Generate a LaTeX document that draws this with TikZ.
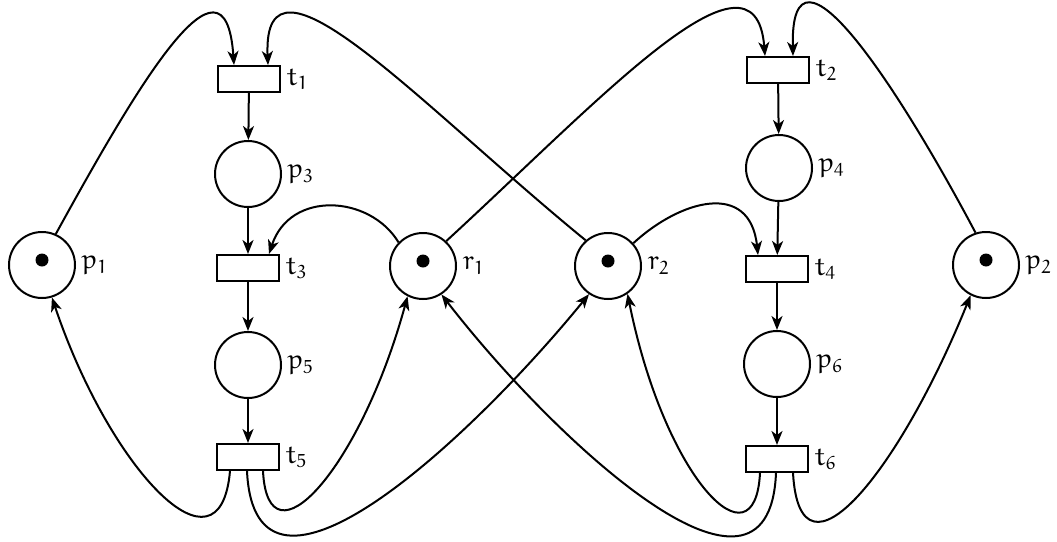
\documentclass[tikz,border=0pt]{standalone}
\usetikzlibrary{arrows.meta}
\DeclareFontFamily{U}{myeur}{}
\DeclareFontShape{U}{myeur}{m}{n}{<-6> eurm5 <6-8> eurm7 <8-> eurm10}{}
\DeclareMathAlphabet{\eu}{U}{myeur}{m}{n}
\newcommand{\lab}[2]{$\eu{#1}_{\eu{#2}}$}
\begin{document}
\begin{tikzpicture}[x=1pt,y=-1pt,
  place/.style={circle,draw,line width=2pt,minimum size=66pt,inner sep=0pt},
  trans/.style={rectangle,draw,line width=2pt,minimum width=62pt,minimum height=26pt,inner sep=0pt},
  tok/.style={circle,fill,minimum size=13pt,inner sep=0pt,yshift=5pt},
  arc/.style={line width=2pt,-{Stealth[length=14pt,width=11pt,inset=4pt]}},
  every label/.style={font=\fontsize{27}{32}\selectfont,label distance=2pt}]
\useasboundingbox (0,0) rectangle (1057,541);
% places
\node[place,label=right:\lab{p}{1}] (p1) at (42,265) {};
\node[place,label=right:\lab{r}{1}] (r1) at (423,266) {};
\node[place,label=right:\lab{r}{2}] (r2) at (608,266) {};
\node[place,label=right:\lab{p}{2}] (p2) at (986,265) {};
\node[place,label=right:\lab{p}{3}] (p3) at (248,174) {};
\node[place,label=right:\lab{p}{5}] (p5) at (248,365) {};
\node[place,label=right:\lab{p}{4}] (p4) at (779,168) {};
\node[place,label=right:\lab{p}{6}] (p6) at (777,364) {};
% tokens
\node[tok] (k1) at (p1) {};
\node[tok] (k2) at (r1) {};
\node[tok] (k3) at (r2) {};
\node[tok] (k4) at (p2) {};
% transitions
\node[trans,label=right:\lab{t}{1}] (t1) at (249,79) {};
\node[trans,label=right:\lab{t}{3}] (t3) at (248,268) {};
\node[trans,label=right:\lab{t}{5}] (t5) at (248,457) {};
\node[trans,label=right:\lab{t}{2}] (t2) at (778,70) {};
\node[trans,label=right:\lab{t}{4}] (t4) at (777,269) {};
\node[trans,label=right:\lab{t}{6}] (t6) at (777,459) {};
% straight arcs
\draw[arc] (t1) -- (p3);
\draw[arc] (p3) -- (t3);
\draw[arc] (t3) -- (p5);
\draw[arc] (p5) -- (t5);
\draw[arc] (t2) -- (p4);
\draw[arc] (p4) -- (t4);
\draw[arc] (t4) -- (p6);
\draw[arc] (p6) -- (t6);
% upper curved arcs
\draw[arc] (p1.66) .. controls (135,90) and (225,-65) .. ([xshift=-15pt]t1.north);
\draw[arc] (r2.131) .. controls (420,105) and (262,-70) .. ([xshift=19pt]t1.north);
\draw[arc] (r1.47) .. controls (600,100) and (755,-70) .. ([xshift=-13pt]t2.north);
\draw[arc] (p2.108) .. controls (900,90) and (790,-80) .. ([xshift=15pt]t2.north);
\draw[arc] (r1.136) .. controls (370,195) and (290,190) .. ([xshift=21pt]t3.north);
\draw[arc] (r2.42) .. controls (680,200) and (750,180) .. ([xshift=-19pt]t4.north);
% lower curved arcs
\draw[arc] ([xshift=-18pt]t5.south) .. controls (220,585) and (110,470) .. (p1.-73);
\draw[arc] ([xshift=15pt]t5.south) .. controls (268,570) and (360,470) .. (r1.-117);
\draw[arc] ([xshift=-1pt]t5.south) .. controls (255,640) and (470,440) .. (r2.-124);
\draw[arc] ([xshift=16pt]t6.south) .. controls (800,595) and (900,470) .. (p2.-117);
\draw[arc] ([xshift=-17pt]t6.south) .. controls (755,570) and (665,480) .. (r2.-55);
\draw[arc] ([xshift=-1pt]t6.south) .. controls (769,640) and (554,440) .. (r1.-57);
\end{tikzpicture}
\end{document}
